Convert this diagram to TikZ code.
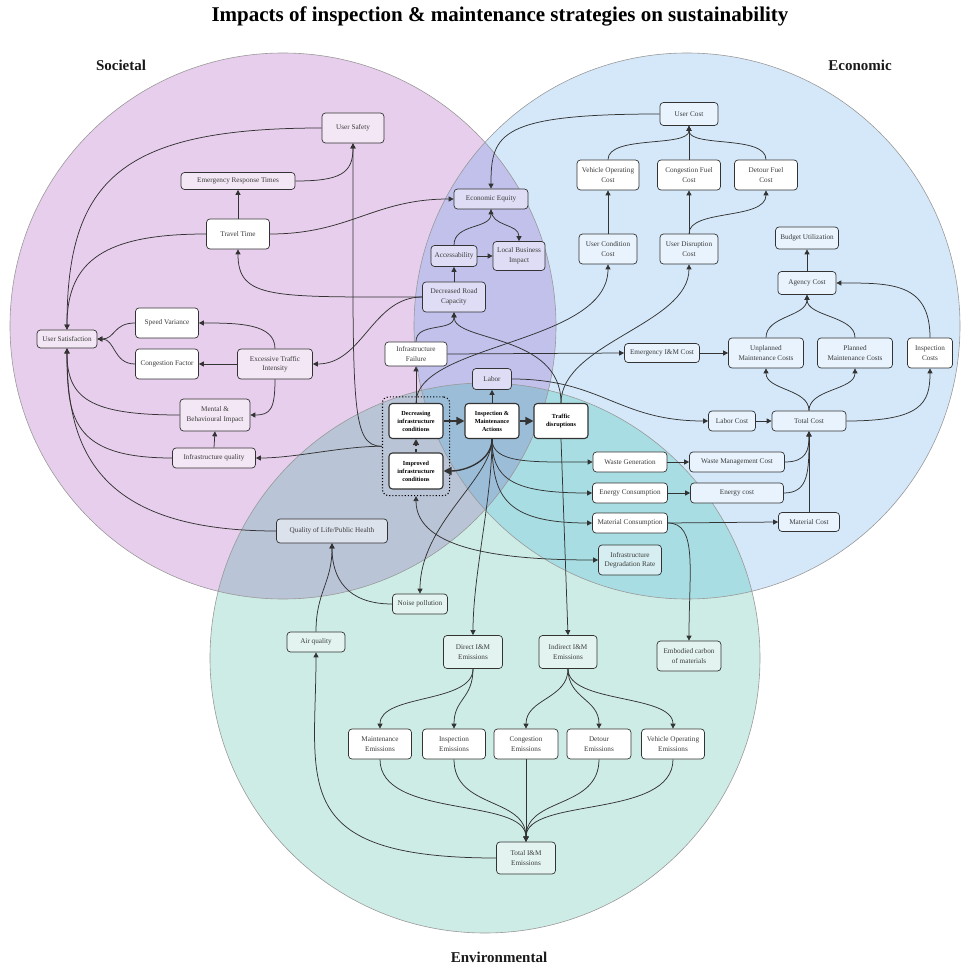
\documentclass[tikz,border=0pt]{standalone}
\usepackage{fontspec}
\setmainfont{Liberation Serif}
\usepackage{tikz}
\usetikzlibrary{arrows.meta,fit}
\usepackage{xcolor}
\definecolor{socbg}{HTML}{E7CEEC}
\definecolor{ecobg}{HTML}{D5E8F9}
\definecolor{envbg}{HTML}{CEECE6}
\definecolor{pbbg}{HTML}{C1C1EC}
\definecolor{pgbg}{HTML}{B9C4D6}
\definecolor{bgbg}{HTML}{A8DDE3}
\definecolor{pbgbg}{HTML}{9CBDD8}
\definecolor{socnode}{HTML}{F3E6F5}
\definecolor{econode}{HTML}{E8F3FD}
\definecolor{envnode}{HTML}{E3F4F0}
\definecolor{ovlnode}{HTML}{DEDDF5}
\definecolor{pgnode}{HTML}{DCE2EC}
\definecolor{bgnode}{HTML}{D6EEF1}
\definecolor{linec}{HTML}{333333}
\definecolor{textc}{HTML}{3C3C3C}

\tikzset{
  box/.style={draw=linec,rounded corners=3.5pt,line width=0.7pt,align=center,
    inner sep=1pt,text=textc,font=\fontsize{7.2}{9.5}\selectfont},
  sz/.style 2 args={minimum width=#1pt,minimum height=#2pt},
  soc/.style={box,fill=socnode},
  eco/.style={box,fill=econode},
  env/.style={box,fill=envnode},
  ovl/.style={box,fill=ovlnode},
  pgn/.style={box,fill=pgnode},
  bgn/.style={box,fill=bgnode},
  plain/.style={box,fill=white},
  core/.style={box,fill=white,line width=1.1pt,text=black,
    font=\fontsize{6.2}{8}\selectfont\bfseries},
  arr/.style={draw=linec,line width=0.75pt,-{Triangle[length=5pt,width=5pt]}},
  bigarr/.style={draw=linec,line width=1.4pt,-{Triangle[length=8pt,width=8pt]}},
  ring/.style={draw=gray!80,line width=0.6pt},
  sect/.style={font=\fontsize{15}{18}\selectfont\bfseries,text=black!90},
}

\begin{document}
\begin{tikzpicture}[x=1pt,y=-1pt]
\useasboundingbox (0,0) rectangle (970,968);
% the three pillars
\coordinate (socc) at (283,326);
\coordinate (ecoc) at (687,326);
\coordinate (envc) at (485,658);
\fill[socbg] (socc) circle[radius=273pt];
\fill[ecobg] (ecoc) circle[radius=273pt];
\fill[envbg] (envc) circle[radius=275pt];
\begin{scope}
  \clip (ecoc) circle[radius=273pt];
  \fill[bgbg] (envc) circle[radius=275pt];
\end{scope}
\begin{scope}
  \clip (socc) circle[radius=273pt];
  \fill[pbbg] (ecoc) circle[radius=273pt];
  \fill[pgbg] (envc) circle[radius=275pt];
  \clip (ecoc) circle[radius=273pt];
  \fill[pbgbg] (envc) circle[radius=275pt];
\end{scope}
\draw[ring] (socc) circle[radius=273pt] (ecoc) circle[radius=273pt]
  (envc) circle[radius=275pt];

\node[font=\fontsize{21}{24}\selectfont\bfseries] (ttl) at (500,16)
  {Impacts of inspection \& maintenance strategies on sustainability};
\node[sect] (lsoc) at (121,65) {Societal};
\node[sect] (leco) at (860,65) {Economic};
\node[sect] (lenv) at (499,957) {Environmental};

% societal
\node[soc,sz={62}{30}] (usafe) at (353,128) {User Safety};
\node[soc,sz={114}{17}] (ert) at (238,181) {Emergency Response Times};
\node[plain,sz={63}{30}] (tt) at (238,234) {Travel Time};
\node[soc,sz={60}{18}] (usat) at (67,339) {User Satisfaction};
\node[plain,sz={63}{30}] (sv) at (167,323) {Speed Variance};
\node[plain,sz={63}{30}] (cf) at (167,364) {Congestion Factor};
\node[soc,sz={75}{30}] (eti) at (275,364) {Excessive Traffic\\Intensity};
\node[soc,sz={70}{32}] (mbi) at (215,415) {Mental \&\\Behavioural Impact};
\node[soc,sz={83}{20}] (iq) at (214,458) {Infrastructure quality};
\node[pgn,sz={111}{24}] (qol) at (332,531) {Quality of Life/Public Health};

% societal + economic
\node[ovl,sz={74}{20}] (eeq) at (491,199) {Economic Equity};
\node[ovl,sz={46}{21}] (acc) at (454,256) {Accessability};
\node[ovl,sz={52}{29}] (lbi) at (519,256) {Local Business\\Impact};
\node[ovl,sz={63}{30}] (drc) at (454,297) {Decreased Road\\Capacity};
\node[plain,sz={62}{24}] (ifail) at (416,354) {Infrastructure\\Failure};
\node[ovl,sz={39}{21}] (labor) at (492,379) {Labor};

% core
\node[core,sz={54}{35}] (dec) at (416,421) {Decreasing\\infrastructure\\conditions};
\node[core,sz={54}{36}] (imp) at (416,471) {Improved\\infrastructure\\conditions};
\node[core,sz={54}{35}] (ima) at (492,421) {Inspection \&\\Maintenance\\Actions};
\node[core,sz={54}{35}] (td) at (561,421) {Traffic\\disruptions};
\node[draw=black,dotted,line width=1.1pt,rounded corners=6pt,fit=(dec)(imp),
  inner sep=6pt] (grp) {};

% economic
\node[eco,sz={58}{23}] (ucost) at (689,114) {User Cost};
\node[plain,sz={62}{30}] (voc) at (608,175) {Vehicle Operating\\Cost};
\node[plain,sz={63}{30}] (cfc) at (689,175) {Congestion Fuel\\Cost};
\node[plain,sz={63}{30}] (dfc) at (766,175) {Detour Fuel\\Cost};
\node[eco,sz={58}{30}] (ucc) at (608,249) {User Condition\\Cost};
\node[eco,sz={58}{30}] (udc) at (689,249) {User Disruption\\Cost};
\node[eco,sz={63}{22}] (bu) at (807,238) {Budget Utilization};
\node[eco,sz={58}{23}] (ac) at (807,283) {Agency Cost};
\node[eco,sz={75}{30}] (upm) at (766,353) {Unplanned\\Maintenance Costs};
\node[eco,sz={75}{30}] (pm) at (855,353) {Planned\\Maintenance Costs};
\node[plain,sz={45}{30}] (ic) at (930,353) {Inspection\\Costs};
\node[eco,sz={75}{19}] (eimc) at (662,353) {Emergency I\&M Cost};
\node[eco,sz={47}{20}] (lc) at (732,421) {Labor Cost};
\node[eco,sz={74}{20}] (tc) at (809,421) {Total Cost};
\node[plain,sz={74}{20}] (wg) at (630,462) {Waste Generation};
\node[eco,sz={95}{20}] (wmc) at (737,462) {Waste Management Cost};
\node[plain,sz={75}{20}] (ec) at (630,493) {Energy Consumption};
\node[eco,sz={93}{20}] (ecost) at (737,493) {Energy cost};
\node[plain,sz={75}{20}] (mc) at (630,523) {Material Consumption};
\node[eco,sz={61}{19}] (mcost) at (809,522) {Material Cost};
\node[bgn,sz={63}{30}] (idr) at (630,560) {Infrastructure\\Degradation Rate};

% environmental
\node[env,sz={55}{20}] (nz) at (420,604) {Noise pollution};
\node[env,sz={58}{20}] (aq) at (316,642) {Air quality};
\node[env,sz={59}{33}] (dir) at (473,652) {Direct I\&M\\Emissions};
\node[env,sz={58}{33}] (ind) at (568,652) {Indirect I\&M\\Emissions};
\node[env,sz={64}{30}] (emb) at (689,656) {Embodied carbon\\of materials};
\node[plain,sz={63}{30}] (me) at (380,744) {Maintenance\\Emissions};
\node[plain,sz={63}{30}] (ie) at (454,744) {Inspection\\Emissions};
\node[plain,sz={64}{30}] (ce) at (526,744) {Congestion\\Emissions};
\node[plain,sz={64}{30}] (de) at (599,744) {Detour\\Emissions};
\node[plain,sz={63}{30}] (voe) at (673,744) {Vehicle Operating\\Emissions};
\node[env,sz={59}{32}] (tot) at (526,858) {Total I\&M\\Emissions};

% societal links
\draw[arr] (usafe.west) .. controls +(-200,0) and +(0,-150) .. (usat.north);
\draw[arr] (ert.east) .. controls +(45,0) and +(0,30) .. (usafe.south);
\draw[arr] (tt.north) -- (ert.south);
\draw[arr] (tt.west) .. controls +(-100,0) and +(0,-70) .. (usat.north);
\draw[arr] (tt.east) .. controls +(80,0) and +(-80,0) .. (eeq.west);
\draw[arr] (drc.west) .. controls +(-150,0) and +(0,50) .. (tt.south);
\draw[arr] (drc.west) .. controls +(-50,0) and +(50,0) .. (eti.east);
\draw[arr] (eti.north) .. controls +(0,-25) and +(40,0) .. (sv.east);
\draw[arr] (eti.west) -- (cf.east);
\draw[arr] (eti.south) .. controls +(0,30) and +(20,0) .. (mbi.east);
\draw[arr] (sv.west) .. controls +(-22,0) and +(18,0) .. (usat.east);
\draw[arr] (cf.west) .. controls +(-22,0) and +(18,0) .. (usat.east);
\draw[arr] (mbi.west) .. controls +(-90,0) and +(0,50) .. (usat.south);
\draw[arr] (iq.north) -- (mbi.south);
\draw[arr] (iq.west) .. controls +(-100,0) and +(0,70) .. (usat.south);
\draw[arr] (qol.west) .. controls +(-180,0) and +(0,100) .. (usat.south);
\draw[arr] (grp.west) .. controls +(-40,0) and +(40,0) .. (iq.east);
\draw[arr] (grp.west) .. controls +(-32,0) and +(0,260) .. (usafe.south);
\draw[arr] (nz.west) .. controls +(-45,0) and +(0,35) .. (qol.south);
\draw[arr] (aq.north) .. controls +(0,-40) and +(0,40) .. (qol.south);
\draw[arr] (tot.west) .. controls +(-210,0) and +(0,130) .. (aq.south);

% core links
\draw[bigarr] (dec) -- (ima);
\draw[bigarr] (ima) -- (td);
\draw[bigarr,dashed,-{Triangle[length=6pt,width=6pt]}] (imp) -- (dec);
\draw[bigarr] (ima.south) .. controls +(0,22) and +(22,0) .. (imp.east);
\draw[arr] (dec.north) -- (ifail.south);
\draw[arr] (dec.north) .. controls +(0,-60) and +(0,80) .. (ucc.south);
\draw[arr] (ifail.north) .. controls +(0,-20) and +(0,20) .. (drc.south);
\draw[arr] (ifail.east) -- (eimc.west);
\draw[arr] (td.north) .. controls +(0,-70) and +(0,30) .. (drc.south);
\draw[arr] (td.north) .. controls +(0,-60) and +(0,60) .. (udc.south);
\draw[arr] (td.south) -- (ind.north);
\draw[arr] (ima.north) -- (labor.south);
\draw[arr] (labor.east) .. controls +(90,0) and +(-90,0) .. (lc.west);
\draw[arr] (ima.south) .. controls +(0,25) and +(-60,0) .. (wg.west);
\draw[arr] (ima.south) .. controls +(0,40) and +(-80,0) .. (ec.west);
\draw[arr] (ima.south) .. controls +(0,55) and +(-90,0) .. (mc.west);
\draw[arr] (ima.south) .. controls +(0,40) and +(0,-70) .. (nz.north);
\draw[arr] (ima.south) .. controls +(0,60) and +(0,-60) .. (dir.north);
\draw[arr,{Triangle[length=5pt,width=5pt]}-{Triangle[length=5pt,width=5pt]}]
  (grp.south) .. controls +(0,55) and +(-90,0) .. (idr.west);

% economic links
\draw[arr] (ucost.west) .. controls +(-160,0) and +(0,-55) .. (eeq.north);
\draw[arr] (voc.north) .. controls +(0,-25) and +(0,22) .. (ucost.south);
\draw[arr] (cfc.north) -- (ucost.south);
\draw[arr] (dfc.north) .. controls +(0,-25) and +(0,22) .. (ucost.south);
\draw[arr] (ucc.north) -- (voc.south);
\draw[arr] (udc.north) -- (cfc.south);
\draw[arr] (udc.north) .. controls +(0,-25) and +(0,30) .. (dfc.south);
\draw[arr] (acc.north) .. controls +(0,-22) and +(0,20) .. (eeq.south);
\draw[arr] (eeq.south) .. controls +(0,18) and +(0,-18) .. (lbi.north);
\draw[arr] (acc.east) -- (lbi.west);
\draw[arr] (drc.north) -- (acc.south);
\draw[arr] (eimc.east) -- (upm.west);
\draw[arr] (lc.east) -- (tc.west);
\draw[arr] (tc.north) .. controls +(0,-22) and +(0,22) .. (upm.south);
\draw[arr] (tc.north) .. controls +(0,-22) and +(0,22) .. (pm.south);
\draw[arr] (tc.east) .. controls +(75,0) and +(0,35) .. (ic.south);
\draw[arr] (upm.north) .. controls +(0,-22) and +(0,22) .. (ac.south);
\draw[arr] (pm.north) .. controls +(0,-22) and +(0,22) .. (ac.south);
\draw[arr] (ic.north) .. controls +(0,-55) and +(55,0) .. (ac.east);
\draw[arr] (ac.north) -- (bu.south);
\draw[arr] (wg.east) -- (wmc.west);
\draw[arr] (wmc.east) .. controls +(22,0) and +(0,18) .. (tc.south);
\draw[arr] (ec.east) -- (ecost.west);
\draw[arr] (ecost.east) .. controls +(25,0) and +(0,40) .. (tc.south);
\draw[arr] (mc.east) -- (mcost.west);
\draw[arr] (mcost.north) -- (tc.south);
\draw[arr] (mc.east) .. controls +(30,0) and +(0,-70) .. (emb.north);

% environmental links
\draw[arr] (dir.south) .. controls +(0,35) and +(0,-35) .. (me.north);
\draw[arr] (dir.south) .. controls +(0,30) and +(0,-30) .. (ie.north);
\draw[arr] (ind.south) .. controls +(0,30) and +(0,-30) .. (ce.north);
\draw[arr] (ind.south) .. controls +(0,30) and +(0,-30) .. (de.north);
\draw[arr] (ind.south) .. controls +(0,35) and +(0,-35) .. (voe.north);
\draw[arr] (me.south) .. controls +(0,60) and +(0,-45) .. (tot.north);
\draw[arr] (ie.south) .. controls +(0,50) and +(0,-45) .. (tot.north);
\draw[arr] (ce.south) -- (tot.north);
\draw[arr] (de.south) .. controls +(0,50) and +(0,-45) .. (tot.north);
\draw[arr] (voe.south) .. controls +(0,60) and +(0,-45) .. (tot.north);
\end{tikzpicture}
\end{document}
